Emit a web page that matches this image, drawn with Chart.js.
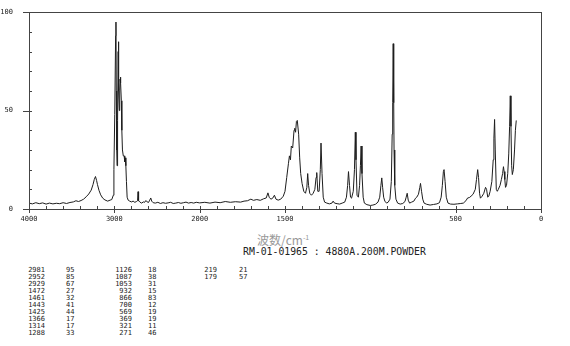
<!DOCTYPE html>
<html>
<head>
<meta charset="utf-8">
<script src="https://cdn.jsdelivr.net/npm/chart.js@4"></script>
<style>
  body { margin: 0; background: #fff; }
  #wrap { position: relative; width: 570px; height: 346px; }
  #chart { position: absolute; left: 0; top: 0; }
  .txt { position: absolute; white-space: pre; color: #222; }
  .col { position: absolute; top: 267px; font: 7px 'DejaVu Sans Mono', monospace; line-height: 7px; color: #222; white-space: pre; }
</style>
</head>
<body>
<div id="wrap">
  <canvas id="chart" width="570" height="228"></canvas>
  <div class="txt" style="left:257px;top:231px;font:12px 'Noto Sans CJK SC';color:#999;">波数/cm<sup style="font-size:7px;">-1</sup></div>
  <div class="txt" style="left:243px;top:246px;font:9.8px 'DejaVu Sans Mono',monospace;">RM-01-01965 : 4880A.200M.POWDER</div>
</div>
<script>
// spectrum, wavenumber (cm-1) and intensity
const waves = [
  4000, 3960, 3920, 3880, 3840, 3800, 3760, 3720, 3680, 3640, 3600, 3560, 3520, 3480, 3450, 3420, 3390, 3360, 3330, 3300,
  3271, 3250, 3235, 3221, 3208, 3198, 3180, 3160, 3136, 3110, 3078, 3050, 3030, 3012, 3005, 2995, 2985, 2981, 2977, 2972,
  2968, 2962, 2955, 2952, 2948, 2942, 2937, 2933, 2929, 2924, 2918, 2912, 2905, 2895, 2885, 2878, 2872, 2865, 2858, 2850,
  2838, 2820, 2800, 2780, 2760, 2740, 2728, 2722, 2716, 2700, 2680, 2660, 2645, 2630, 2615, 2600, 2585, 2573, 2562, 2545,
  2520, 2490, 2460, 2430, 2400, 2370, 2340, 2310, 2280, 2250, 2220, 2190, 2160, 2130, 2100, 2070, 2040, 2000,
  1970, 1940, 1910, 1880, 1850, 1820, 1790, 1760, 1740, 1720, 1700, 1685, 1665, 1645, 1625, 1610, 1600, 1592, 1582, 1572,
  1562, 1553, 1540, 1525, 1510, 1500, 1490, 1480, 1474, 1468, 1463, 1455, 1447, 1443, 1438, 1433, 1428, 1420, 1414, 1408,
  1400, 1390, 1380, 1372, 1367, 1362, 1355, 1345, 1335, 1325, 1318, 1314, 1308, 1300, 1293, 1289, 1283, 1276, 1268, 1255,
  1240, 1225, 1218, 1210, 1195, 1180, 1165, 1150, 1140, 1133, 1128, 1122, 1116, 1110, 1100, 1093, 1088, 1084, 1078, 1070,
  1063, 1058, 1054, 1049, 1042, 1035, 1020, 1000, 985, 970, 955, 945, 938, 933, 928, 922, 915, 905, 895, 885,
  877, 872, 869, 866, 863, 861, 857, 850, 840, 825, 810, 797, 790, 784, 778, 770, 758, 745, 735, 728,
  718, 710, 706, 700, 693, 685, 670, 650, 630, 610, 595, 585, 578, 572, 568, 562, 555, 545, 530, 510,
  490, 470, 455, 440, 430, 420, 410, 398, 385, 378, 371, 366, 360, 355, 345, 335, 325, 319, 312, 306,
  298, 288, 280, 276, 272, 268, 262, 256, 250, 240, 232, 225, 220, 216, 212, 208, 202, 195, 189, 184,
  180, 176, 172, 168, 162, 155, 150, 145
];
const intensity = [
  3.0, 2.6, 3.2, 2.7, 3.1, 2.5, 3.0, 2.6, 2.9, 2.7, 3.2, 2.8, 3.3, 3.6, 4.2, 3.8, 4.3, 5.0, 6.2, 7.6,
  9.6, 12.4, 15.0, 16.5, 14.5, 12.5, 9.5, 7.2, 5.5, 4.6, 4.0, 4.5, 4.8, 7, 20, 48, 88, 95, 60, 30,
  22, 45, 80, 85, 60, 50, 60, 66, 67, 64, 55, 40, 30, 27, 27, 24, 26, 22, 14, 6,
  4.5, 4.0, 3.6, 4.0, 3.4, 3.8, 4.2, 8.8, 4.2, 3.5, 3.0, 3.6, 3.4, 4.3, 3.6, 3.3, 4.5, 5.6, 4.0, 3.2,
  3.0, 3.4, 2.8, 3.2, 2.9, 3.1, 3.4, 2.8, 3.0, 3.3, 2.9, 3.2, 3.5, 3.0, 3.3, 3.0, 3.4, 3.1,
  3.4, 3.0, 3.5, 3.2, 3.8, 3.4, 3.7, 3.5, 4.0, 4.2, 5.0, 4.4, 4.8, 4.4, 5.2, 5.6, 8.2, 5.8, 5.0, 5.5,
  7.0, 5.0, 4.5, 5.0, 6.5, 9, 16, 23, 27, 25, 32, 31, 40, 41, 39, 44.5, 45, 38, 26, 18,
  13, 9, 8, 11, 18, 12, 8, 7, 8, 10, 16, 18.5, 9, 9, 20, 33.5, 18, 6, 3.5, 3,
  2.6, 3, 4, 3, 2.7, 2.5, 3, 3.5, 6, 12, 19, 12, 6, 5.5, 9, 20, 39, 25, 7, 6,
  12, 22, 32, 18, 6, 3, 2.2, 1.8, 2, 2.4, 3.5, 6, 12, 15.8, 11, 6, 4, 3, 3.5, 5,
  14, 38, 54, 84, 54, 30, 12, 5, 3, 2.5, 2.8, 3.8, 6, 8, 4.5, 3, 3.5, 4, 5.5, 6,
  7.5, 11, 13, 9, 5, 3, 2.4, 2, 2.3, 2.6, 3.2, 6, 12, 19, 20, 14, 6, 3, 2.5, 2.4,
  2.6, 2.8, 3.0, 4.2, 5.6, 5.8, 6.5, 7.5, 10, 15, 20, 16, 8, 5.5, 6.5, 8, 11, 10, 6, 6.5,
  9, 14, 25, 36, 45.5, 30, 10, 9, 10, 12, 15, 18, 21.5, 19, 15, 11, 12, 18, 28, 42,
  57.5, 42, 22, 17.5, 20, 30, 40, 45
];

// x axis labels
const xTickWaves = [4000, 3000, 2000, 1500, 500, 0];
const xTickLabels = ['4000', '3000', '2000', '1500', '500', '0'];
const yTickValues = [0, 50, 100];

// peak list under the chart
const peakWaves = [2981, 2952, 2929, 1472, 1461, 1443, 1425, 1366, 1314, 1288,
  1126, 1087, 1053, 932, 866, 700, 569, 369, 321, 271, 219, 179];
const peakInts = [95, 85, 67, 27, 32, 41, 44, 17, 17, 33,
  18, 38, 31, 15, 83, 12, 19, 19, 11, 46, 21, 57];

// above 2000 cm-1 the axis is compressed by half
const toAxis = (w) => (w > 2000 ? 2000 + (w - 2000) / 2 : w);

const points = waves.map((w, i) => ({ x: toAxis(w), y: intensity[i] }));

const frame = {
  id: 'frame',
  afterDraw(chart) {
    const { ctx, chartArea: a, scales } = chart;
    const x = scales.x, y = scales.y;
    ctx.save();
    ctx.strokeStyle = '#444';
    ctx.lineWidth = 1;
    ctx.strokeRect(Math.round(a.left) + 0.5, Math.round(a.top) + 0.5,
      Math.round(a.right - a.left), Math.round(a.bottom - a.top));
    ctx.beginPath();
    for (let u = 0; u <= 3000; u += 100) {
      const px = Math.round(x.getPixelForValue(u)) + 0.5;
      ctx.moveTo(px, a.bottom); ctx.lineTo(px, a.bottom - 3);
    }
    xTickWaves.forEach((w) => {
      const px = Math.round(x.getPixelForValue(toAxis(w))) + 0.5;
      ctx.moveTo(px, a.bottom); ctx.lineTo(px, a.bottom + 4);
    });
    for (let v = 0; v <= 100; v += 10) {
      const py = Math.round(y.getPixelForValue(v)) + 0.5;
      ctx.moveTo(a.left, py); ctx.lineTo(a.left + 3, py);
    }
    yTickValues.forEach((v) => {
      const py = Math.round(y.getPixelForValue(v)) + 0.5;
      ctx.moveTo(a.left - 6, py); ctx.lineTo(a.left, py);
    });
    ctx.stroke();
    ctx.restore();
  }
};

new Chart(document.getElementById('chart'), {
  type: 'line',
  data: {
    datasets: [{
      data: points,
      borderColor: '#1e1e1e',
      borderWidth: 1,
      pointRadius: 0,
      tension: 0,
      fill: false
    }]
  },
  options: {
    responsive: false,
    devicePixelRatio: 1,
    animation: false,
    events: [],
    layout: { padding: { left: 0, top: 11, right: 29, bottom: 0 } },
    plugins: { legend: { display: false }, tooltip: { enabled: false } },
    scales: {
      x: {
        type: 'linear',
        min: 0,
        max: 3000,
        reverse: true,
        grid: { display: false },
        border: { display: false },
        afterBuildTicks: (axis) => {
          axis.ticks = xTickWaves.map((w) => ({ value: toAxis(w) }));
        },
        afterFit: (axis) => { axis.height = 19; },
        ticks: {
          autoSkip: false,
          maxRotation: 0,
          padding: -2,
          color: '#222',
          font: { family: 'DejaVu Sans Mono', size: 7 },
          callback: (value, index) => xTickLabels[index]
        }
      },
      y: {
        min: 0,
        max: 100,
        grid: { display: false },
        border: { display: false },
        afterBuildTicks: (axis) => {
          axis.ticks = yTickValues.map((v) => ({ value: v }));
        },
        afterFit: (axis) => { axis.width = 29; },
        ticks: {
          padding: 8,
          color: '#222',
          font: { family: 'DejaVu Sans Mono', size: 7 }
        }
      }
    }
  },
  plugins: [frame]
});

// peak table: three pairs of columns, ten rows each
const wrap = document.getElementById('wrap');
const colSpots = [
  { right: 45, left: 66 },
  { right: 132, left: 148 },
  { right: 217, left: 239 }
];
colSpots.forEach((spot, k) => {
  const ws = peakWaves.slice(k * 10, k * 10 + 10);
  const vs = peakInts.slice(k * 10, k * 10 + 10);
  if (!ws.length) return;
  const a = document.createElement('div');
  a.className = 'col';
  a.style.left = (spot.right - 30) + 'px';
  a.style.width = '30px';
  a.style.textAlign = 'right';
  a.textContent = ws.join('\n');
  wrap.appendChild(a);
  const b = document.createElement('div');
  b.className = 'col';
  b.style.left = spot.left + 'px';
  b.textContent = vs.join('\n');
  wrap.appendChild(b);
});
</script>
</body>
</html>
